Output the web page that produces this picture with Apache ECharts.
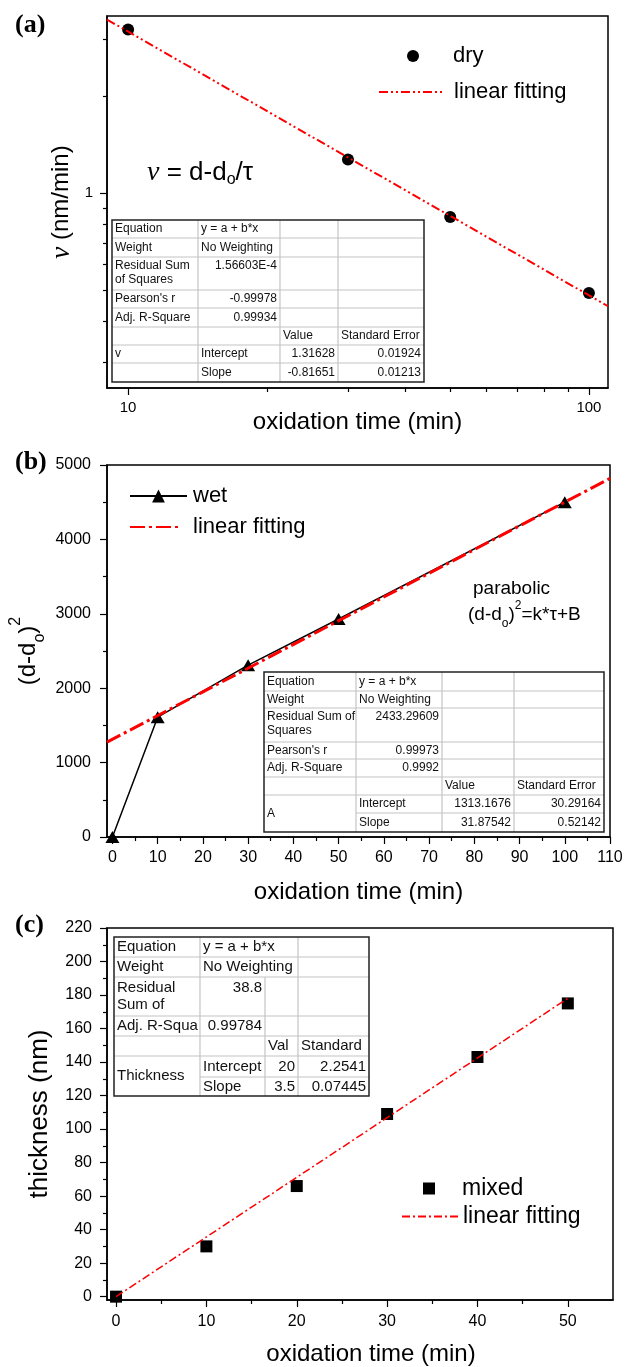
<!DOCTYPE html>
<html>
<head>
<meta charset="utf-8">
<script src="https://cdn.jsdelivr.net/npm/echarts@6/dist/echarts.min.js"></script>
<style>
  html, body { margin: 0; padding: 0; background: #fff; }
  #chart { width: 635px; height: 1367px; }
</style>
</head>
<body>
<div id="chart"></div>
<script>
// ---------- (a) dry oxidation: rate vs time, log-log ----------
const dryTime = [10, 30, 50, 100];
const dryRate = [3.21, 1.27, 0.843, 0.49];
const fitATime = [9, 110];
const fitARate = [3.444, 0.446];
const aXMajor = [10, 100];
const aXMinor = [20, 30, 40, 50, 60, 70, 80, 90];
const aYMajor = [1];
const aYMinor = [0.3, 0.4, 0.5, 0.6, 0.7, 0.8, 0.9, 2, 3];

// ---------- (b) wet oxidation: (d-do)^2 vs time ----------
const wetTime = [0, 10, 30, 50, 100];
const wetSq = [0, 1610, 2310, 2930, 4500];
const fitBTime = [-1.2, 110];
const fitBSq = [1274.9, 4819.5];
const bXMajor = [0, 10, 20, 30, 40, 50, 60, 70, 80, 90, 100, 110];
const bXMinor = [5, 15, 25, 35, 45, 55, 65, 75, 85, 95, 105];
const bYMajor = [0, 1000, 2000, 3000, 4000, 5000];
const bYMinor = [500, 1500, 2500, 3500, 4500];

// ---------- (c) mixed oxidation: thickness vs time ----------
const mixedTime = [0, 10, 20, 30, 40, 50];
const mixedThick = [0, 30, 66, 109, 143, 175];
const fitCTime = [0, 50];
const fitCThick = [0, 178];
const cXMajor = [0, 10, 20, 30, 40, 50];
const cXMinor = [5, 15, 25, 35, 45];
const cYMajor = [0, 20, 40, 60, 80, 100, 120, 140, 160, 180, 200, 220];
const cYMinor = [10, 30, 50, 70, 90, 110, 130, 150, 170, 190, 210];

// ---------- fit report tables ----------
const tableARows = [
  ['Equation', 'y = a + b*x', '', ''],
  ['Weight', 'No Weighting', '', ''],
  ['Residual Sum\nof Squares', '1.56603E-4', '', ''],
  ["Pearson's r", '-0.99978', '', ''],
  ['Adj. R-Square', '0.99934', '', ''],
  ['', '', 'Value', 'Standard Error'],
  ['v', 'Intercept', '1.31628', '0.01924'],
  ['', 'Slope', '-0.81651', '0.01213']
];
const tableBRows = [
  ['Equation', 'y = a + b*x', '', ''],
  ['Weight', 'No Weighting', '', ''],
  ['Residual Sum of\nSquares', '2433.29609', '', ''],
  ["Pearson's r", '0.99973', '', ''],
  ['Adj. R-Square', '0.9992', '', ''],
  ['', '', 'Value', 'Standard Error'],
  ['A', 'Intercept', '1313.1676', '30.29164'],
  ['', 'Slope', '31.87542', '0.52142']
];
const tableCRows = [
  ['Equation', 'y = a + b*x', '', ''],
  ['Weight', 'No Weighting', '', ''],
  ['Residual\nSum of', '38.8', '', ''],
  ['Adj. R-Squa', '0.99784', '', ''],
  ['', '', 'Val', 'Standard'],
  ['Thickness', 'Intercept', '20', '2.2541'],
  ['', 'Slope', '3.5', '0.07445']
];

const FONT = '"Liberation Sans", Arial, sans-serif';
const SERIF = '"Liberation Serif", "Times New Roman", serif';
const zip = (xs, ys) => xs.map((x, i) => [x, ys[i]]);
const plain = v => String(+Number(v).toPrecision(6));

// table geometry (pixel layout of the cells)
const tableLayouts = [
  { rows: tableARows, cols: [112, 198, 280, 338, 424], lines: [220, 238, 257, 290, 308, 327, 345, 363, 382], font: 12, lh: 14, merge: false, skipV: [] },
  { rows: tableBRows, cols: [264, 356, 442, 514, 604], lines: [672, 691, 708, 742, 759, 777, 795, 813, 832], font: 12, lh: 14, merge: true, skipV: [] },
  { rows: tableCRows, cols: [114, 200, 265, 298, 369], lines: [937, 957, 977, 1016, 1036, 1056, 1077, 1096], font: 15, lh: 17, merge: true, skipV: [[2, 0], [2, 1]] }
];

const isNumber = s => /^-?[\d.]+(E-?\d+)?$/.test(s);

function buildTable(t) {
  const els = [];
  const c = t.cols, r = t.lines, n = t.rows.length;
  const x0 = c[0], x1 = c[c.length - 1], y0 = r[0], y1 = r[r.length - 1];
  els.push({ type: 'rect', shape: { x: x0, y: y0, width: x1 - x0, height: y1 - y0 }, style: { fill: '#fff', stroke: null }, z: 100 });
  const grey = { stroke: '#c4c4c4', lineWidth: 1.2 };
  // horizontal inner rules
  for (let i = 1; i < n; i++) {
    const startX = (t.merge && i === n - 1) ? c[1] : x0;
    els.push({ type: 'line', shape: { x1: startX, y1: r[i], x2: x1, y2: r[i] }, style: grey, z: 101 });
  }
  // vertical inner rules
  for (let j = 1; j < c.length - 1; j++) {
    for (let i = 0; i < n; i++) {
      if (t.skipV.some(s => s[0] === j && s[1] === i)) continue;
      els.push({ type: 'line', shape: { x1: c[j], y1: r[i], x2: c[j], y2: r[i + 1] }, style: grey, z: 101 });
    }
  }
  // outer border
  els.push({ type: 'rect', shape: { x: x0, y: y0, width: x1 - x0, height: y1 - y0 }, style: { fill: null, stroke: '#222', lineWidth: 1.5 }, z: 102 });
  // cell texts
  t.rows.forEach((row, i) => {
    const multi = row.some(s => s.indexOf('\n') >= 0);
    row.forEach((txt, j) => {
      if (!txt) return;
      const right = isNumber(txt);
      let y, va;
      if (t.merge && j === 0 && i === n - 2) {
        y = (r[i] + r[i + 2]) / 2; va = 'middle';
      } else if (multi) {
        y = r[i] + 2; va = 'top';
      } else {
        y = (r[i] + r[i + 1]) / 2; va = 'middle';
      }
      els.push({
        type: 'text', z: 103,
        x: right ? c[j + 1] - 3 : c[j] + 3, y: y,
        style: {
          text: txt, fill: '#111', fontSize: t.font, fontFamily: FONT,
          lineHeight: t.lh, align: right ? 'right' : 'left', verticalAlign: va
        }
      });
    });
  });
  return els;
}

function axisPair(dim, gridIndex, range, major, minor, label, name) {
  const base = {
    gridIndex: gridIndex,
    type: range.type || 'value',
    min: range.min, max: range.max,
    position: dim === 'x' ? 'bottom' : 'left',
    splitLine: { show: false },
    minorTick: { show: false },
    minorSplitLine: { show: false }
  };
  if (range.type === 'log') base.logBase = 10;
  const main = Object.assign({}, base, {
    axisLine: { show: true, onZero: false, lineStyle: { color: '#000', width: 1.5 } },
    axisTick: { show: true, inside: false, length: 7, customValues: major, lineStyle: { color: '#000', width: 1.2 } },
    axisLabel: Object.assign({ show: true, customValues: major, color: '#000', fontFamily: FONT, hideOverlap: false, formatter: plain }, label),
    nameMoveOverlap: false
  }, name || {});
  const sub = Object.assign({}, base, {
    axisLine: { show: false, onZero: false },
    axisTick: { show: true, inside: false, length: 4, customValues: minor, lineStyle: { color: '#000', width: 1.2 } },
    axisLabel: { show: false }
  });
  return [main, sub];
}

const xTitle = (gap, pad) => ({
  name: 'oxidation time (min)', nameLocation: 'middle', nameGap: gap,
  nameTextStyle: { fontSize: 24, fontFamily: FONT, color: '#000', padding: pad || 0 }
});

const xAxes = [].concat(
  axisPair('x', 0, { type: 'log', min: 9, max: 110 }, aXMajor, aXMinor, { fontSize: 15, margin: 12 }, xTitle(22)),
  axisPair('x', 1, { min: -1.2, max: 110 }, bXMajor, bXMinor, { fontSize: 16, margin: 13 }, xTitle(43)),
  axisPair('x', 2, { min: -1, max: 55 }, cXMajor, cXMinor, { fontSize: 16, margin: 14 }, xTitle(42, [0, 0, 0, 22]))
);

const yAxes = [].concat(
  axisPair('y', 0, { type: 'log', min: 0.249, max: 3.532 }, aYMajor, aYMinor, { fontSize: 15, margin: 14 }, {
    name: '{i|ν}{n| (nm/min)}', nameLocation: 'middle', nameRotate: 90, nameGap: 32,
    nameTextStyle: { color: '#000', rich: {
      i: { fontFamily: SERIF, fontStyle: 'italic', fontSize: 27, color: '#000' },
      n: { fontFamily: FONT, fontSize: 24, color: '#000' }
    } }
  }),
  axisPair('y', 1, { min: 0, max: 5000 }, bYMajor, bYMinor, { fontSize: 16, margin: 16 }, {
    name: '{n|(d-d}{s|o}{n|)}{p|2}', nameLocation: 'middle', nameRotate: 90, nameGap: 59,
    nameTextStyle: { color: '#000', rich: {
      n: { fontFamily: FONT, fontSize: 24, lineHeight: 40, color: '#000' },
      s: { fontFamily: FONT, fontSize: 16, lineHeight: 22, verticalAlign: 'bottom', color: '#000' },
      p: { fontFamily: FONT, fontSize: 16, lineHeight: 18, verticalAlign: 'top', color: '#000' }
    } }
  }),
  axisPair('y', 2, { min: -2, max: 220 }, cYMajor, cYMinor, { fontSize: 16, margin: 15 }, {
    name: 'thickness (nm)', nameLocation: 'middle', nameRotate: 90, nameGap: 54,
    nameTextStyle: { fontFamily: FONT, fontSize: 26, color: '#000' }
  })
);

const gridBase = { show: true, borderColor: '#000', borderWidth: 1.5, backgroundColor: 'transparent', containLabel: false, outerBoundsMode: 'none' };
const grids = [
  Object.assign({ left: 107, top: 16, width: 501, height: 372 }, gridBase),
  Object.assign({ left: 107, top: 465, width: 503, height: 372 }, gridBase),
  Object.assign({ left: 107, top: 928, width: 506, height: 372 }, gridBase)
];

const series = [
  { type: 'scatter', name: 'dry', xAxisIndex: 0, yAxisIndex: 0, data: zip(dryTime, dryRate),
    symbol: 'circle', symbolSize: 12, itemStyle: { color: '#000', opacity: 1 }, z: 3 },
  { type: 'line', name: 'fitA', xAxisIndex: 0, yAxisIndex: 0, data: zip(fitATime, fitARate),
    symbol: 'none', itemStyle: { color: '#ff0000' },
    lineStyle: { color: '#ff0000', width: 2, type: [9, 3, 2, 3, 2, 3] }, z: 4 },

  { type: 'line', name: 'wet', xAxisIndex: 2, yAxisIndex: 2, data: zip(wetTime, wetSq),
    symbol: 'triangle', symbolSize: [14, 12], showAllSymbol: true,
    itemStyle: { color: '#000', opacity: 1 }, lineStyle: { color: '#000', width: 1.5 }, z: 3 },
  { type: 'line', name: 'fitB', xAxisIndex: 2, yAxisIndex: 2, data: zip(fitBTime, fitBSq),
    symbol: 'none', itemStyle: { color: '#ff0000' },
    lineStyle: { color: '#ff0000', width: 3, type: [15, 4, 3, 4] }, z: 4 },

  { type: 'scatter', name: 'mixed', xAxisIndex: 4, yAxisIndex: 4, data: zip(mixedTime, mixedThick),
    symbol: 'rect', symbolSize: 12, itemStyle: { color: '#000', opacity: 1 }, z: 3 },
  { type: 'line', name: 'fitC', xAxisIndex: 4, yAxisIndex: 4, data: zip(fitCTime, fitCThick),
    symbol: 'none', itemStyle: { color: '#ff0000' },
    lineStyle: { color: '#ff0000', width: 1.5, type: [8, 3, 2, 3] }, z: 4 }
];

const legendText = { dry: 'dry', fitA: 'linear fitting', wet: 'wet', fitB: 'linear fitting', mixed: 'mixed', fitC: 'linear fitting' };
function legendItem(name, left, top, w, h, size, pad, icon, lineOnly) {
  const d = { name: name };
  if (icon) d.icon = icon;
  const lg = {
    data: [d], left: left, top: top, itemWidth: w, itemHeight: h, padding: 0,
    selectedMode: false, orient: 'vertical',
    formatter: n => legendText[n],
    textStyle: { fontSize: size, fontFamily: FONT, color: '#000', padding: [0, 0, 0, pad] }
  };
  if (lineOnly) lg.itemStyle = { opacity: 0 };
  else lg.itemStyle = { opacity: 1 };
  return lg;
}
const legends = [
  legendItem('dry', 407, 45, 12, 12, 22, 29, 'circle'),
  legendItem('fitA', 378, 81, 65, 12, 22, 5, null, true),
  legendItem('wet', 129, 485, 57, 16, 22, 1),
  legendItem('fitB', 129, 516, 52, 12, 22, 6, null, true),
  legendItem('mixed', 423, 1177, 12, 12, 23, 22, 'rect'),
  legendItem('fitC', 401, 1205, 56, 12, 23, 0, null, true)
];

const richMain = size => ({
  n: { fontFamily: FONT, fontSize: size, lineHeight: 30, fill: '#000' },
  i: { fontFamily: SERIF, fontStyle: 'italic', fontSize: size + 2, lineHeight: 30, fill: '#000' },
  s: { fontFamily: FONT, fontSize: Math.round(size * 0.62), lineHeight: 16, verticalAlign: 'bottom', fill: '#000' },
  p: { fontFamily: FONT, fontSize: Math.round(size * 0.62), lineHeight: 16, verticalAlign: 'top', fill: '#000' }
});

const graphics = [
  { type: 'text', x: 15, y: 25, style: { text: '(a)', font: 'bold 26px ' + SERIF, fill: '#000', verticalAlign: 'middle' } },
  { type: 'text', x: 15, y: 462, style: { text: '(b)', font: 'bold 26px ' + SERIF, fill: '#000', verticalAlign: 'middle' } },
  { type: 'text', x: 15, y: 925, style: { text: '(c)', font: 'bold 26px ' + SERIF, fill: '#000', verticalAlign: 'middle' } },
  { type: 'text', x: 147, y: 173, z: 50, style: { text: '{i|ν}{n| = d-d}{s|o}{n|/τ}', rich: richMain(26), verticalAlign: 'middle' } },
  { type: 'text', x: 473, y: 589, z: 50, style: { text: 'parabolic', fontFamily: FONT, fontSize: 19, fill: '#000', verticalAlign: 'middle' } },
  { type: 'text', x: 468, y: 615, z: 50, style: { text: '{n|(d-d}{s|o}{n|)}{p|2}{n|=k*τ+B}', rich: richMain(19), verticalAlign: 'middle' } }
].concat(buildTable(tableLayouts[0]), buildTable(tableLayouts[1]), buildTable(tableLayouts[2]));

const chart = echarts.init(document.getElementById('chart'), null, { renderer: 'canvas' });
chart.setOption({
  animation: false,
  backgroundColor: '#fff',
  grid: grids,
  xAxis: xAxes,
  yAxis: yAxes,
  legend: legends,
  series: series,
  graphic: { elements: graphics }
});
</script>
</body>
</html>
